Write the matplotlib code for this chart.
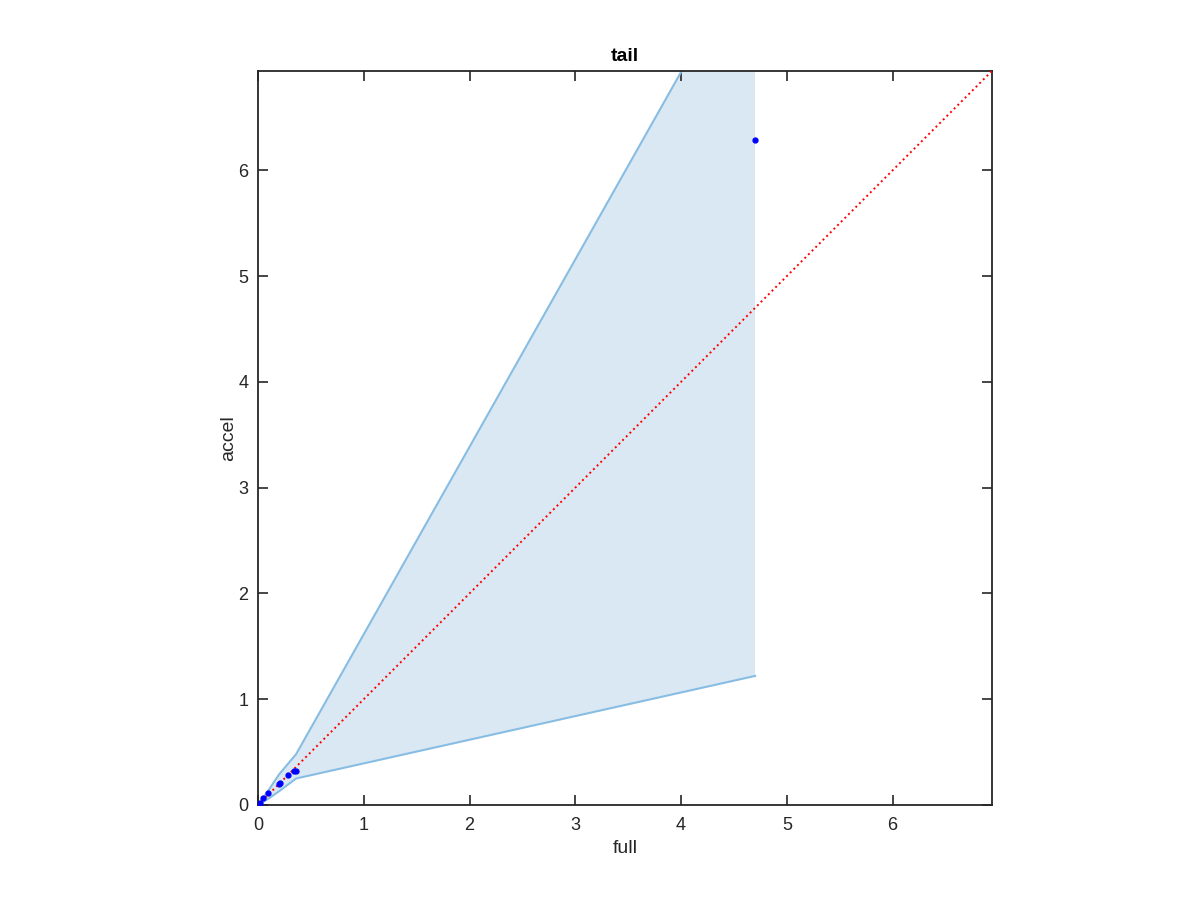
import matplotlib
matplotlib.use("Agg")
import matplotlib.pyplot as plt
import numpy as np

plt.rcParams['font.family'] = ['Liberation Sans', 'DejaVu Sans']

# band (confidence region)
band_x = [0.0, 0.1, 0.2, 0.36, 4.70]
band_lo = [0.0, 0.06, 0.13, 0.25, 1.22]
band_hi = [0.0, 0.14, 0.29, 0.48, 8.17]

# data points
pt_full = [0.0, 0.01, 0.02, 0.05, 0.09, 0.20, 0.21, 0.28, 0.34, 0.36, 4.70]
pt_accel = [0.0, 0.01, 0.02, 0.07, 0.11, 0.20, 0.21, 0.28, 0.32, 0.32, 6.29]

lim = 6.94
diag = [0, lim]

fig = plt.figure(figsize=(12, 9), dpi=100)
ax = fig.add_axes([0.215, 0.1056, 0.6117, 0.8156])

ax.fill_between(band_x, band_lo, band_hi, facecolor='#dae8f3', edgecolor='none', zorder=1)
ax.plot(band_x, band_lo, color='#88bde3', lw=1.5, zorder=2)
ax.plot(band_x, band_hi, color='#88bde3', lw=1.5, zorder=2)
ax.plot(diag, diag, color='red', ls=':', lw=1.4, zorder=3)
ax.plot(pt_full, pt_accel, ls='none', marker='o', ms=3.5, color='blue', zorder=4)

ax.set_xlim(0, lim)
ax.set_ylim(0, lim)
ax.set_xticks(range(0, 7))
ax.set_yticks(range(0, 7))
ax.tick_params(direction='in', top=True, right=True, length=7, width=1.2,
               labelsize=13, colors='#262626')
ax.tick_params(axis='x', pad=9)
ax.tick_params(axis='y', pad=7)
for s in ax.spines.values():
    s.set_linewidth(1.3)
    s.set_color('#262626')
ax.set_xlabel('full', fontsize=14, color='#262626', labelpad=4)
ax.set_ylabel('accel', fontsize=14, color='#262626', labelpad=1)
ax.set_title('tail', fontsize=14, fontweight='bold', pad=7)

fig.savefig('out.png', dpi=100)
